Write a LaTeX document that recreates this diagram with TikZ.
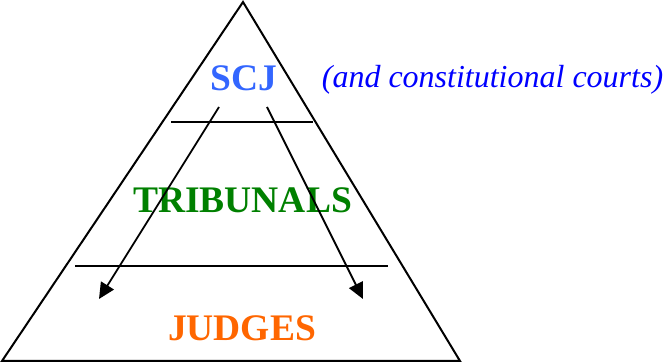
\documentclass[tikz,border=0pt]{standalone}
\usepackage{fontspec}
\setmainfont{Liberation Serif}
\usetikzlibrary{arrows.meta}
\definecolor{scjblue}{RGB}{51,102,255}
\definecolor{noteblue}{RGB}{0,0,255}
\definecolor{tribgreen}{RGB}{0,128,0}
\definecolor{judgeorange}{RGB}{255,102,0}
\begin{document}
\begin{tikzpicture}[x=1pt,y=-1pt,
  edge/.style={line width=2pt,line join=miter},
  divider/.style={line width=2pt},
  flow/.style={line width=1.8pt,-{Triangle[length=16pt,width=15pt]}},
  level/.style={font=\fontsize{37.5}{40}\selectfont\bfseries,inner sep=0pt},
  note/.style={font=\fontsize{32}{36}\selectfont\itshape,text=noteblue,inner sep=0pt}]
\useasboundingbox (0,0) rectangle (667,363);
\coordinate (apex) at (243,2);
\coordinate (bl) at (2,361);
\coordinate (br) at (460,361);
\draw[edge] (apex) -- (br) -- (bl) -- cycle;
\coordinate (d1l) at (171,122);
\coordinate (d1r) at (313,122);
\coordinate (d2l) at (75,266);
\coordinate (d2r) at (388,266);
\draw[divider] (d1l) -- (d1r);
\draw[divider] (d2l) -- (d2r);
\node[level,text=scjblue] (scj) at (243.5,78) {SCJ};
\node[note] (cc) at (492.5,80) {(and constitutional courts)};
\node[level,text=tribgreen] (trib) at (242.5,200) {TRIBUNALS};
\node[level,text=judgeorange] (judges) at (242,328) {JUDGES};
\coordinate (a1s) at (219,107);
\coordinate (a1e) at (99,299);
\coordinate (a2s) at (267,107);
\coordinate (a2e) at (363,299);
\draw[flow] (a1s) -- (a1e);
\draw[flow] (a2s) -- (a2e);
\end{tikzpicture}
\end{document}
